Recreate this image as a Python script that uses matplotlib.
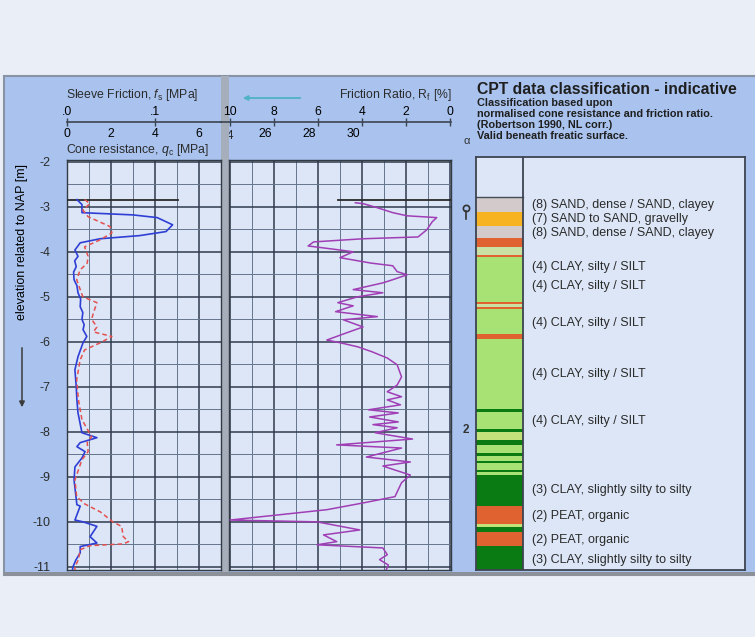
import numpy as np
import matplotlib
matplotlib.use("Agg")
import matplotlib.pyplot as plt
from matplotlib.patches import Rectangle, FancyArrowPatch
from matplotlib.transforms import Bbox, blended_transform_factory

plt.rcParams.update({"font.family": ["Liberation Sans", "DejaVu Sans"], "font.size": 9,
    "mathtext.fontset": "custom", "mathtext.rm": "Liberation Sans",
    "mathtext.it": "Liberation Sans:italic", "text.color": "#2b2b2b"})

W, H = 755, 637

# cone resistance qc [MPa] vs elevation [m NAP]
qc_elev = [-2.84, -2.95, -3.13, -3.18, -3.24, -3.40, -3.55, -3.64, -3.71, -3.80, -3.96, -4.10,
           -4.20, -4.33, -4.45, -4.62, -4.75, -4.91, -5.05, -5.22, -5.35, -5.50, -5.62, -5.73,
           -5.88, -6.02, -6.33, -6.62, -7.00, -7.30, -7.58, -8.02, -8.13, -8.24, -8.33, -8.44,
           -8.58, -8.78, -9.07, -9.62, -9.65, -9.96, -10.00, -10.10, -10.33, -10.47, -10.55,
           -10.69, -10.85, -11.00, -11.07]
qc = [0.45, 0.68, 0.68, 3.0, 4.1, 4.8, 4.5, 3.3, 1.5, 0.6, 0.36, 0.5,
      0.35, 0.42, 0.30, 0.32, 0.45, 0.5, 0.62, 0.6, 0.72, 0.68, 0.78, 0.73,
      0.9, 0.73, 0.5, 0.36, 0.42, 0.45, 0.5, 0.68, 1.36, 0.6, 0.45, 0.82,
      0.68, 0.36, 0.32, 0.45, 0.6, 0.36, 0.73, 1.36, 1.05, 1.36, 0.6,
      0.6, 0.4, 0.27, 0.25]

# sleeve friction fs [MPa]
fs_elev = [-2.84, -2.93, -3.07, -3.22, -3.44, -3.58, -3.73, -3.89, -4.10, -4.25, -4.40, -4.62,
           -5.00, -5.13, -5.36, -5.50, -5.67, -5.78, -5.88, -6.02, -6.18, -6.40, -6.84, -7.29,
           -7.73, -8.11, -8.24, -8.44, -8.62, -9.07, -9.44, -9.60, -9.78, -10.00, -10.10,
           -10.33, -10.44, -10.49, -10.53, -10.62, -10.84, -11.00, -11.07]
fs = [0.020, 0.026, 0.018, 0.024, 0.049, 0.051, 0.038, 0.020, 0.024, 0.023, 0.015, 0.011,
      0.018, 0.034, 0.030, 0.028, 0.034, 0.030, 0.051, 0.038, 0.020, 0.015, 0.011, 0.013,
      0.017, 0.028, 0.023, 0.024, 0.017, 0.009, 0.011, 0.020, 0.038, 0.052, 0.062,
      0.064, 0.070, 0.064, 0.026, 0.015, 0.013, 0.009, 0.009]

# friction ratio Rf [%]
rf_elev = [-2.91, -2.93, -3.02, -3.13, -3.20, -3.24, -3.33, -3.51, -3.67, -3.71, -3.78, -3.87,
           -3.96, -4.00, -4.13, -4.25, -4.31, -4.44, -4.51, -4.62, -4.69, -4.84, -4.91, -5.00,
           -5.13, -5.20, -5.33, -5.44, -5.51, -5.67, -5.80, -5.96, -6.02, -6.11, -6.22, -6.36,
           -6.51, -6.78, -6.96, -7.11, -7.22, -7.29, -7.40, -7.51, -7.58, -7.67, -7.78, -7.84,
           -7.91, -8.02, -8.16, -8.29, -8.36, -8.56, -8.67, -8.76, -8.96, -9.13, -9.44, -9.58,
           -9.73, -9.96, -10.00, -10.18, -10.29, -10.44, -10.51, -10.58, -10.73, -10.84,
           -10.96, -11.07]
rf = [4.3, 3.95, 3.3, 2.6, 1.95, 0.6, 0.8, 1.05, 1.45, 3.95, 6.2, 6.45,
      5.0, 4.4, 5.0, 3.6, 2.6, 2.4, 1.95, 2.6, 3.05, 4.4, 3.05, 4.2,
      5.1, 4.4, 5.2, 3.3, 4.85, 3.95, 4.7, 5.6, 5.0, 4.2, 3.55, 2.85,
      2.4, 2.2, 2.4, 2.85, 2.2, 2.85, 2.25, 3.7, 2.35, 3.65, 2.35, 3.5,
      2.4, 3.4, 1.7, 5.15, 2.2, 3.8, 1.8, 3.05, 1.8, 2.2, 2.5, 3.95,
      5.6, 10.0, 6.05, 4.1, 5.75, 5.15, 6.05, 3.05, 2.85, 3.2,
      2.8, 2.9]

surface_level = -2.84
water_level = -3.02

# soil classification column
layer_top = [-2.78, -3.11, -3.42, -3.69, -3.89, -4.07, -4.11, -5.11, -5.16, -5.22, -5.27, -5.82,
             -5.93, -7.49, -7.56, -7.93, -8.00, -8.18, -8.29, -8.47, -8.53, -8.64, -8.69, -8.84,
             -8.89, -8.96, -9.64, -10.04, -10.11, -10.22, -10.53]
layer_bot = [-3.11, -3.42, -3.69, -3.89, -4.07, -4.11, -5.11, -5.16, -5.22, -5.27, -5.82, -5.93,
             -7.49, -7.56, -7.93, -8.00, -8.18, -8.29, -8.47, -8.53, -8.64, -8.69, -8.84, -8.89,
             -8.96, -9.64, -10.04, -10.11, -10.22, -10.53, -11.12]
layer_type = ["8", "7", "8", "2", "5", "2", "4", "2", "5", "2", "4", "2",
              "4", "3", "4", "3", "6", "3", "4", "3", "4", "3", "4", "3",
              "4", "3", "2", "6", "3", "2", "3"]
soil_colors = {"8": "#d3cbcb", "7": "#f8b322", "2": "#df6230", "5": "#c9e2a4",
               "4": "#a8e274", "3": "#0a7a12", "6": "#c4e27a"}

label_elev = [-2.96, -3.27, -3.58, -4.33, -4.76, -5.58, -6.71, -7.76, -9.29, -9.87, -10.40, -10.84]
label_text = ["(8) SAND, dense / SAND, clayey", "(7) SAND to SAND, gravelly",
              "(8) SAND, dense / SAND, clayey", "(4) CLAY, silty / SILT", "(4) CLAY, silty / SILT",
              "(4) CLAY, silty / SILT", "(4) CLAY, silty / SILT", "(4) CLAY, silty / SILT",
              "(3) CLAY, slightly silty to silty", "(2) PEAT, organic", "(2) PEAT, organic",
              "(3) CLAY, slightly silty to silty"]

qc_ticks = [0, 2, 4, 6]
qc_ticks_mid = [26, 28, 30]
fs_ticks = [0, 0.1]
fs_ticklabels = [".0", ".1"]
rf_ticks = [10, 8, 6, 4, 2, 0]
elev_ticks = [-2, -3, -4, -5, -6, -7, -8, -9, -10, -11]

BG = "#e9eef7"; PANEL = "#a9c3ee"; FACE = "#dce6f6"
MAJ = "#2f3a4e"; MIN = "#66758e"; SPINE = "#333a44"; AXC = "#3c4450"


def frac(x0, y0, x1, y1):
    return [x0 / W, 1 - y1 / H, (x1 - x0) / W, (y1 - y0) / H]


def style_plot(ax, xmaj, xmin):
    ax.set_facecolor(FACE)
    ax.set_xticks(xmaj); ax.set_xticks(xmin, minor=True)
    ax.set_yticks(elev_ticks); ax.set_yticks(np.array(elev_ticks[1:]) + 0.5, minor=True)
    ax.grid(which="major", color=MAJ, lw=1.1)
    ax.grid(which="minor", color=MIN, lw=0.7)
    ax.set_axisbelow(True)
    ax.tick_params(which="both", length=0, labelbottom=False)
    for s in ax.spines.values():
        s.set_color(SPINE); s.set_linewidth(1.0)


def bare(ax):
    ax.set_yticks([]); ax.set_facecolor("none")
    for s in ax.spines.values():
        s.set_visible(False)


fig = plt.figure(figsize=(W / 100, H / 100), dpi=100, facecolor=BG)
for r in (Rectangle((4 / W, 1 - 575 / H), 760 / W, 499 / H, facecolor=PANEL, edgecolor="#8a93a4", lw=1.5),
          Rectangle((221 / W, 1 - 574 / H), 8 / W, 498 / H, facecolor="#a7aebb", edgecolor="none"),
          Rectangle((4 / W, 1 - 576 / H), 760 / W, 4 / H, facecolor="#8c9098", edgecolor="none")):
    r.set_transform(fig.transFigure); r.set_zorder(-5)
    fig.patches.append(r)

ylim = (-11.07, -1.96)

# left panel: qc and fs
ax1 = fig.add_axes(frac(67, 160, 221, 570))
ax1.set_xlim(0, 7); ax1.set_ylim(ylim)
style_plot(ax1, qc_ticks, [1, 3, 5])
ax1.tick_params(labelleft=True, pad=12, labelsize=9, colors="#2b2b2b")
ax1.set_yticklabels([str(v) for v in elev_ticks])
ax1.plot([0, 5.05], [surface_level] * 2, color="#2a2a2a", lw=1.3, zorder=4)
ax1.plot(qc, qc_elev, color="#2f3fd6", lw=1.2, zorder=5)
axfs = ax1.twiny()
axfs.set_xlim(0, 0.175)
axfs.plot(fs, fs_elev, color="#e4504e", lw=1.1, ls=(0, (3, 2)), zorder=5)
axfs.axis("off")
ax1.set_ylabel("elevation related to NAP [m]", fontsize=9)
ax1.yaxis.set_label_coords(-0.255, 0.80)
fig.add_artist(FancyArrowPatch((22 / W, 1 - 345 / H), (22 / W, 1 - 410 / H),
               transform=fig.transFigure, arrowstyle="-|>", mutation_scale=8, color="#3a3a3a", lw=1.1))

# middle panel: friction ratio
ax2 = fig.add_axes(frac(229, 160, 451, 570))
ax2.set_xlim(10.05, -0.05); ax2.set_ylim(ylim)
style_plot(ax2, rf_ticks, [9, 7, 5, 3, 1])
ax2.tick_params(labelleft=False)
ax2.plot([5.1, -0.05], [surface_level] * 2, color="#2a2a2a", lw=1.3, zorder=4)
ax2.plot(rf, rf_elev, color="#a03eb6", lw=1.1, zorder=5)

# top scales: qc below the line, fs / Rf above it
sc1 = fig.add_axes(frac(67, 122, 221, 122))
sc1.set_xlim(0, 7); bare(sc1)
fsax = sc1.twiny(); fsax.set_xlim(0, 0.175); bare(fsax)
sc1.xaxis.tick_bottom()
sc1.spines["bottom"].set_visible(True)
sc1.spines["bottom"].set_color(AXC); sc1.spines["bottom"].set_linewidth(1.2)
sc1.set_xticks(qc_ticks)
sc1.tick_params(axis="x", length=0, pad=4, labelsize=8.8)
fsax.xaxis.tick_top()
fsax.set_xticks(fs_ticks); fsax.set_xticklabels(fs_ticklabels)
fsax.tick_params(axis="x", direction="inout", length=6, width=1, color=AXC, pad=0, labelsize=8.8)

sc2 = fig.add_axes(frac(221, 122, 451, 122))
sc2.set_xlim(10.05 + 8 / 22, -0.05); bare(sc2)
qcm = sc2.twiny(); bare(qcm)
qcm.set_xlim(26 - (265 - 221) / 22, 26 + (451 - 265) / 22)
sc2.xaxis.tick_top()
sc2.spines["top"].set_visible(True)
sc2.spines["top"].set_color(AXC); sc2.spines["top"].set_linewidth(1.2)
sc2.set_xticks(rf_ticks)
sc2.tick_params(axis="x", direction="inout", length=6, width=1, color=AXC, pad=0, labelsize=8.8)
qcm.xaxis.tick_bottom()
qcm.set_xticks(qc_ticks_mid)
qcm.tick_params(axis="x", length=0, pad=4, labelsize=8.8)
# the "24" label is cut off by the panel separator, only its last digit shows
t24 = qcm.text(24.3, 1 - 136 / H, "24", transform=blended_transform_factory(qcm.transData, fig.transFigure),
               ha="center", va="center", fontsize=8.8, clip_on=True)
t24.set_clip_box(Bbox.from_extents(229, 0, 451, H))

fig.text(66 / W, 1 - 95 / H, "Sleeve Friction, $\\mathit{f}_{\\mathrm{s}}$ [MPa]", fontsize=8.8, va="center")
fig.text(66 / W, 1 - 150 / H, "Cone resistance, $\\mathit{q}_{\\mathrm{c}}$ [MPa]", fontsize=8.8, va="center")
fig.text(452 / W, 1 - 95 / H, "Friction Ratio, R$_{\\mathrm{f}}$ [%]", fontsize=8.8, va="center", ha="right")
fig.add_artist(FancyArrowPatch((303 / W, 1 - 98 / H), (240 / W, 1 - 98 / H),
               transform=fig.transFigure, arrowstyle="-|>", mutation_scale=7, color="#4fb3c4", lw=1.3))

# classification panel
ylim_r = (-11.07, -1.89)
ax3 = fig.add_axes(frac(476, 157, 745, 570))
ax3.set_xlim(0, 1); ax3.set_ylim(ylim_r)
ax3.set_facecolor(FACE); ax3.set_xticks([]); ax3.set_yticks([])
for s in ax3.spines.values():
    s.set_color(AXC); s.set_linewidth(1.3)
col_w = 47 / 269
ax3.bar(np.zeros(len(layer_top)), np.array(layer_top) - np.array(layer_bot), width=col_w,
        bottom=layer_bot, align="edge", color=[soil_colors[t] for t in layer_type], edgecolor="none")
ax3.plot([0, col_w], [layer_top[0]] * 2, color="#444c58", lw=1.0)
ax3.axvline(col_w, color=AXC, lw=1.3)
for e, t in zip(label_elev, label_text):
    ax3.text(0.208, e, t, fontsize=9, va="center", color="#2b2b2b")

strip = fig.add_axes(frac(453, 157, 476, 570))
strip.set_xlim(0, 1); strip.set_ylim(ylim_r); strip.axis("off")
strip.plot([0.55], [water_level], marker="o", ms=4.5, mfc="none", mec="#333", mew=1.2)
strip.plot([0.55, 0.55], [water_level - 0.07, water_level - 0.25], color="#333", lw=1.2)
strip.text(0.55, -7.96, "2", ha="center", va="center", fontsize=8.5, fontweight="bold", color="#333")
fig.text(467 / W, 1 - 141 / H, "α", ha="center", va="center", fontsize=8, color="#333")

fig.text(477 / W, 1 - 90 / H, "CPT data classification - indicative", fontsize=11.3, fontweight="bold",
         va="center", color="#1f1f1f")
sub = ["Classification based upon", "normalised cone resistance and friction ratio.",
       "(Robertson 1990, NL corr.)", "Valid beneath freatic surface."]
for i, s in enumerate(sub):
    fig.text(477 / W, 1 - (103 + 11 * i) / H, s, fontsize=7.8, fontweight="bold", va="center", color="#1f1f1f")

fig.savefig("out.png", dpi=100, facecolor=BG)
